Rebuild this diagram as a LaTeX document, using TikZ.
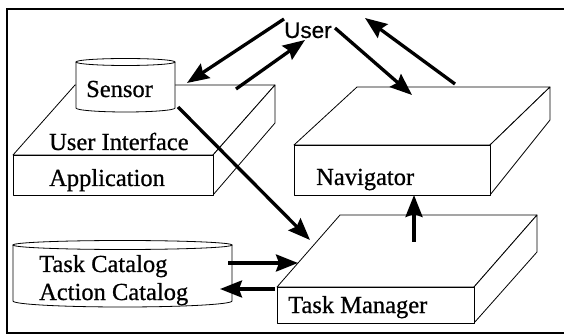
\documentclass[tikz,border=0pt]{standalone}
\usepackage{fontspec}
\setmainfont{Liberation Serif}[FakeBold=0.7]
\newfontfamily\userfont{Liberation Sans}[FakeBold=0.5]
\usetikzlibrary{positioning,arrows.meta}
\tikzset{
  slab/.style={draw, fill=white, line width=0.8pt, line join=round},
  drum/.style={draw, fill=white, line width=0.8pt},
  flow/.style={-{Stealth[length=22pt,width=17pt,inset=3pt]}, line width=3.3pt},
  txt/.style={anchor=base west, inner sep=0pt, font=\fontsize{24.5}{28}\selectfont},
  frame/.style={line width=2.6pt},
}

\begin{document}
\begin{tikzpicture}[x=1pt,y=-1pt]
  \useasboundingbox (0,0) rectangle (564,336);
  \draw[frame] (564,9) -- (7,9) -- (7,333) -- (564,333);

  % user interface slab
  \draw[slab] (13,155) -- (75,85) -- (275,85) -- (213,155) -- cycle;
  \draw[slab] (213,155) -- (275,85) -- (275,123) -- (213,195) -- cycle;
  \draw[slab] (13,155) rectangle (213,195);

  % navigator slab
  \draw[slab] (294,145) -- (357,87) -- (550,87) -- (490,145) -- cycle;
  \draw[slab] (490,145) -- (550,87) -- (550,120) -- (490,195) -- cycle;
  \draw[slab] (294,145) rectangle (490,195);

  % task manager slab
  \draw[slab] (277,287) -- (340,215) -- (537,215) -- (474,287) -- cycle;
  \draw[slab] (474,287) -- (537,215) -- (537,252) -- (474,323) -- cycle;
  \draw[slab] (277,287) rectangle (474,323);

  % sensor drum
  \draw[drum] (76,62) -- (76,108) arc[start angle=180, end angle=360, x radius=49.5pt, y radius=4pt] -- (175,62);
  \draw[drum] (125.5,62) ellipse [x radius=49.5pt, y radius=3.5pt];

  % catalog drum
  \draw[drum] (13,245) -- (13,301) arc[start angle=180, end angle=360, x radius=109.5pt, y radius=6pt] -- (232,245);
  \draw[drum] (122.5,245) ellipse [x radius=109.5pt, y radius=4.5pt];

  \node[txt, font=\userfont\fontsize{22.5}{26}\selectfont] (user) at (284,38) {User};
  \node[txt] (sensor) at (86,97) {Sensor};
  \node[txt] (ui) at (49,150) {User Interface};
  \node[txt] (app) at (49,186) {Application};
  \node[txt] (nav) at (316,185) {Navigator};
  \node[txt] (tm) at (288,313) {Task Manager};
  \node[txt] (tcat) at (39,272) {Task Catalog};
  \node[txt] (acat) at (39,300) {Action Catalog};

  \coordinate (u1) at (284,19);
  \coordinate (s1) at (187,83);
  \coordinate (ui1) at (236,89);
  \coordinate (u2) at (305,40);
  \coordinate (u3) at (335,28);
  \coordinate (n1) at (412,95);
  \coordinate (n2) at (455,84);
  \coordinate (u4) at (365,18);
  \coordinate (s2) at (178,107);
  \coordinate (t1) at (310,240);
  \coordinate (t2) at (414,242);
  \coordinate (n3) at (414,195);
  \coordinate (c1) at (228,263);
  \coordinate (t3) at (298,263);
  \coordinate (t4) at (275,289);
  \coordinate (c2) at (220,289);

  \draw[flow] (u1) -- (s1);
  \draw[flow] (ui1) -- (u2);
  \draw[flow] (u3) -- (n1);
  \draw[flow] (n2) -- (u4);
  \draw[flow] (s2) -- (t1);
  \draw[flow] (t2) -- (n3);
  \draw[flow] (c1) -- (t3);
  \draw[flow] (t4) -- (c2);
\end{tikzpicture}
\end{document}
